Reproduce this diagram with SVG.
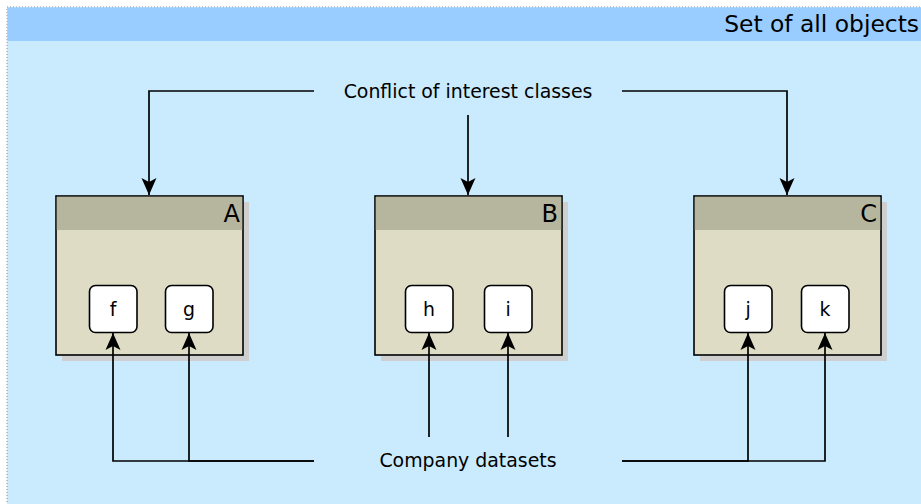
<svg xmlns="http://www.w3.org/2000/svg" width="921" height="504" viewBox="0 0 921 504">
<style>
text{font-family:"DejaVu Sans","Liberation Sans",sans-serif;fill:#000}
.lbl{font-size:18.9px;text-anchor:middle}
.ttl{font-size:24px;text-anchor:end}
.shadow{fill:#cfcfcf}
.body{fill:#dedcc5;stroke:#000;stroke-width:1.6}
.head{fill:#b6b69e}
.item{fill:#fff;stroke:#000;stroke-width:1.6}
.edge{fill:none;stroke:#000;stroke-width:1.7}
</style>
<defs>
<marker id="arr" markerUnits="userSpaceOnUse" markerWidth="20" markerHeight="20" viewBox="-18 -9 20 18" refX="0" refY="0" orient="auto">
<path d="M0,0 L-17,-7.5 L-13,0 L-17,7.5 Z" fill="#000"/>
</marker>
</defs>
<g id="frame">
<rect x="7" y="7" width="930" height="510" fill="#c9ebfd" stroke="#8a8aa0" stroke-width="1" stroke-dasharray="1,2"/>
<rect x="7.5" y="7.5" width="920" height="33.5" fill="#99ccff"/>
<text x="919" y="32" style="font-size:23.4px;text-anchor:end">Set of all objects</text>
</g>
<g id="classA">
<rect class="shadow" x="62" y="202" width="187" height="159"/>
<rect class="body" x="56" y="196" width="187" height="159"/>
<rect class="head" x="56.8" y="196.8" width="185.4" height="33.2"/>
<text class="ttl" x="240" y="222">A</text>
</g>
<g id="classB">
<rect class="shadow" x="381" y="202" width="187" height="159"/>
<rect class="body" x="375" y="196" width="187" height="159"/>
<rect class="head" x="375.8" y="196.8" width="185.4" height="33.2"/>
<text class="ttl" x="558" y="222">B</text>
</g>
<g id="classC">
<rect class="shadow" x="700" y="202" width="187" height="159"/>
<rect class="body" x="694" y="196" width="187" height="159"/>
<rect class="head" x="694.8" y="196.8" width="185.4" height="33.2"/>
<text class="ttl" x="877" y="222">C</text>
</g>
<g id="f"><rect class="item" x="89.5" y="285.5" width="47.5" height="47" rx="6"/><text class="lbl" x="113" y="316">f</text></g>
<g id="g"><rect class="item" x="165.5" y="285.5" width="47.5" height="47" rx="6"/><text class="lbl" x="189" y="316">g</text></g>
<g id="h"><rect class="item" x="405.5" y="285.5" width="47.5" height="47" rx="6"/><text class="lbl" x="429" y="316">h</text></g>
<g id="i"><rect class="item" x="484.5" y="285.5" width="47.5" height="47" rx="6"/><text class="lbl" x="508" y="316">i</text></g>
<g id="j"><rect class="item" x="724.5" y="285.5" width="47.5" height="47" rx="6"/><text class="lbl" x="748" y="316">j</text></g>
<g id="k"><rect class="item" x="801.5" y="285.5" width="47.5" height="47" rx="6"/><text class="lbl" x="825" y="316">k</text></g>
<g id="coi"><text class="lbl" x="468" y="98">Conflict of interest classes</text></g>
<g id="datasets"><text class="lbl" x="468" y="467">Company datasets</text></g>
<g id="connectors">
<path class="edge" d="M314,91 H149 V195" marker-end="url(#arr)"/>
<path class="edge" d="M468,115 V195" marker-end="url(#arr)"/>
<path class="edge" d="M622,91 H787 V195" marker-end="url(#arr)"/>
<path class="edge" d="M314,461 H113 V333" marker-end="url(#arr)"/>
<path class="edge" d="M314,461 H189 V333" marker-end="url(#arr)"/>
<path class="edge" d="M429,437 V333" marker-end="url(#arr)"/>
<path class="edge" d="M508,437 V333" marker-end="url(#arr)"/>
<path class="edge" d="M622,461 H748 V333" marker-end="url(#arr)"/>
<path class="edge" d="M622,461 H825 V333" marker-end="url(#arr)"/>
</g>
</svg>
